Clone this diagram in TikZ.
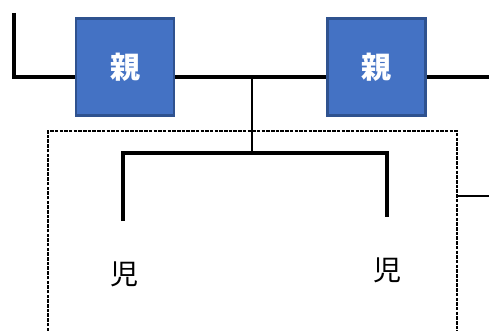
\documentclass[tikz,border=0pt]{standalone}
\usepackage{fontspec}
\newfontfamily\cjk{Noto Sans CJK JP}
\definecolor{boxfill}{HTML}{4472C4}
\definecolor{boxedge}{HTML}{2F528F}
\tikzset{
  parentbox/.style={draw=boxedge, fill=boxfill, line width=2.5pt, minimum width=98pt, minimum height=97pt, inner sep=0pt, text=white, font=\cjk\bfseries\fontsize{30}{32}\selectfont},
  childlabel/.style={inner sep=0pt, font=\cjk\fontsize{28}{30}\selectfont},
  thickline/.style={line width=3.5pt},
  thinline/.style={line width=1.4pt},
  dashbox/.style={line width=1.1pt, dash pattern=on 3.5pt off 1.2pt}
}
\begin{document}
\begin{tikzpicture}[x=1pt,y=1pt]
\useasboundingbox (0,0) rectangle (489,-331);
% coordinates
\coordinate (tl) at (14,-13);
\coordinate (bl) at (14,-77);
\coordinate (br) at (489,-77);
\coordinate (drop) at (252,-77);
\coordinate (bar) at (252,-153);
\coordinate (barL) at (123,-153);
\coordinate (barR) at (387,-153);
\coordinate (legL) at (123,-221);
\coordinate (legR) at (387,-217);
\coordinate (dbl) at (48,-331);
\coordinate (dtl) at (48,-131);
\coordinate (dtr) at (457,-131);
\coordinate (dbr) at (457,-331);
\coordinate (sideA) at (457,-196);
\coordinate (sideB) at (489,-196);
% lines
\draw[thickline, line join=miter] (tl) -- (bl) -- (br);
\draw[thinline] (drop) -- (bar);
\draw[thickline, line join=miter] (legL) -- (barL) -- (barR) -- (legR);
\draw[dashbox] (dbl) -- (dtl) -- (dtr) -- (dbr);
\draw[thinline] (sideA) -- (sideB);
% nodes
\node[parentbox] (p1) at (125,-67) {親};
\node[parentbox] (p2) at (376.5,-67) {親};
\node[childlabel] (c1) at (124,-274) {児};
\node[childlabel] (c2) at (387,-270) {児};
\end{tikzpicture}
\end{document}
